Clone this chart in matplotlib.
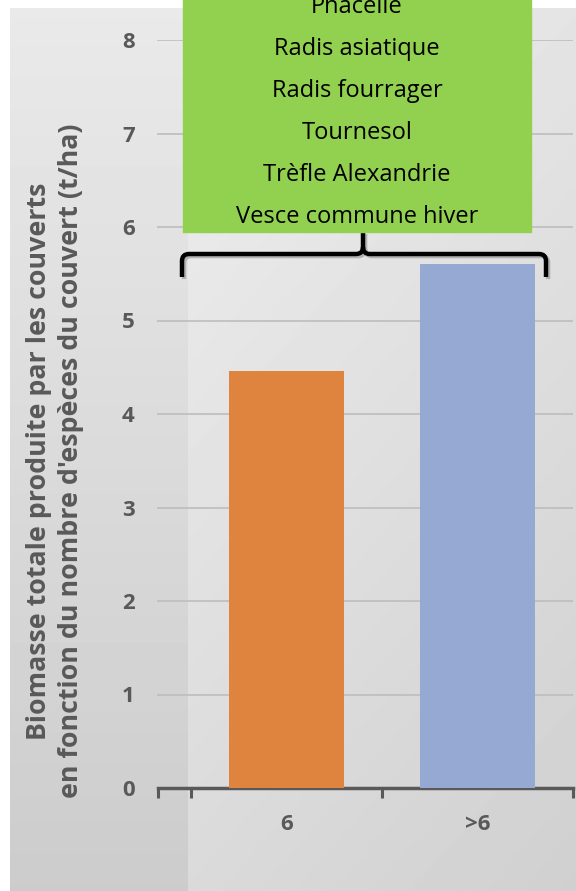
import numpy as np
import matplotlib.pyplot as plt
import matplotlib.patheffects as pe
from matplotlib.path import Path
from matplotlib.patches import PathPatch, Rectangle

plt.rcParams['font.family'] = ['Open Sans', 'DejaVu Sans']

# biomasse moyenne par nombre d'especes
categories = ['6', '>6']
biomasse = [4.46, 5.60]
bar_colors = ['#DE843F', '#95A9D2']
especes = ['Phacélie', 'Radis asiatique', 'Radis fourrager', 'Tournesol',
           'Trèfle Alexandrie', 'Vesce commune hiver']
yticks = [0, 1, 2, 3, 4, 5, 6, 7, 8]

W, H = 576, 891
fig = plt.figure(figsize=(W / 100, H / 100), dpi=100)
fig.patch.set_facecolor('white')

# fond gris du graphique (degrade vertical)
bg = fig.add_axes([10 / W, 0, (W - 10) / W, (H - 8) / H], zorder=0)
grad = np.linspace(0.915, 0.80, 256).reshape(-1, 1)
bg.imshow(grad, cmap='gray', vmin=0, vmax=1, aspect='auto', extent=[0, 1, 0, 1], origin='upper')
bg.axis('off')

# zone de tracé un peu plus claire (degrade diagonal)
pa = fig.add_axes([188 / W, 0, (W - 188) / W, (H - 8) / H], zorder=0.5)
gx, gy = np.meshgrid(np.linspace(0, 1, 200), np.linspace(0, 1, 400))
pa.imshow(0.935 - 0.08 * gy - 0.04 * gx, cmap='gray', vmin=0, vmax=1, aspect='auto',
          extent=[0, 1, 0, 1], origin='upper')
pa.axis('off')

gray = '#595959'
ax = fig.add_axes([157 / W, (H - 788) / H, (573 - 157) / W, (788 - 40) / H], zorder=1)
ax.set_facecolor('none')
x = np.arange(len(categories))
ax.bar(x, biomasse, width=0.607, color=bar_colors, zorder=3)
ax.set_xlim(-0.678, 1.5)
ax.set_ylim(0, 8)

ax.set_yticks(yticks)
ax.set_yticklabels([str(t) for t in yticks], fontsize=16, fontweight='bold', color=gray)
ax.tick_params(axis='y', length=0, pad=16)
ax.yaxis.grid(True, color='#bdbdbd', lw=1.2)
ax.set_axisbelow(True)

ax.set_xticks(x)
ax.set_xticklabels(categories, fontsize=16, fontweight='bold', color=gray)
ax.tick_params(axis='x', which='major', direction='in', length=6, width=2.2, color=gray, pad=19)
ax.set_xticks([-0.673, -0.5, 0.5, 1.5], minor=True)
ax.tick_params(axis='x', which='minor', direction='out', length=7, width=2.2, color=gray)

for s in ['top', 'right', 'left']:
    ax.spines[s].set_visible(False)
ax.spines['bottom'].set_color(gray)
ax.spines['bottom'].set_linewidth(2.5)
ax.spines['bottom'].set_bounds(-0.673, 1.5)

fig.text(39 / W, 1 - 461 / H, 'Biomasse totale produite par les couverts', rotation=90,
         ha='center', va='center', fontsize=19.3, fontweight='bold', color=gray)
fig.text(71 / W, 1 - 461 / H, "en fonction du nombre d'espèces du couvert (t/ha)", rotation=90,
         ha='center', va='center', fontsize=19.3, fontweight='bold', color=gray)

# encadre des especes et accolade, en pixels
ov = fig.add_axes([0, 0, 1, 1], zorder=5)
ov.set_xlim(0, W)
ov.set_ylim(H, 0)
ov.axis('off')
ov.add_patch(Rectangle((183, -5), 531 - 183, 237, color='#92D050', zorder=2))
for i, nom in enumerate(especes):
    ov.text(357, 7 + 42 * i, nom, ha='center', va='center', fontsize=17, color='black', zorder=3)

r = 7
verts = [(182, 277), (182, 254 + r), (182, 254), (182 + r, 254),
         (363 - r, 254), (363, 254), (363, 254 - r), (363, 232),
         (363, 254 - r), (363, 254), (363 + r, 254),
         (546 - r, 254), (546, 254), (546, 254 + r), (546, 277)]
codes = [Path.MOVETO, Path.LINETO, Path.CURVE3, Path.CURVE3,
         Path.LINETO, Path.CURVE3, Path.CURVE3, Path.LINETO,
         Path.MOVETO, Path.CURVE3, Path.CURVE3,
         Path.LINETO, Path.CURVE3, Path.CURVE3, Path.LINETO]
brace = PathPatch(Path(verts, codes), fill=False, lw=3.2, edgecolor='black',
                  capstyle='butt', joinstyle='round', zorder=1)
brace.set_path_effects([pe.SimpleLineShadow(offset=(1.5, -1.5), shadow_color='gray', alpha=0.5),
                        pe.Normal()])
ov.add_patch(brace)

fig.savefig('out.png', dpi=100)
